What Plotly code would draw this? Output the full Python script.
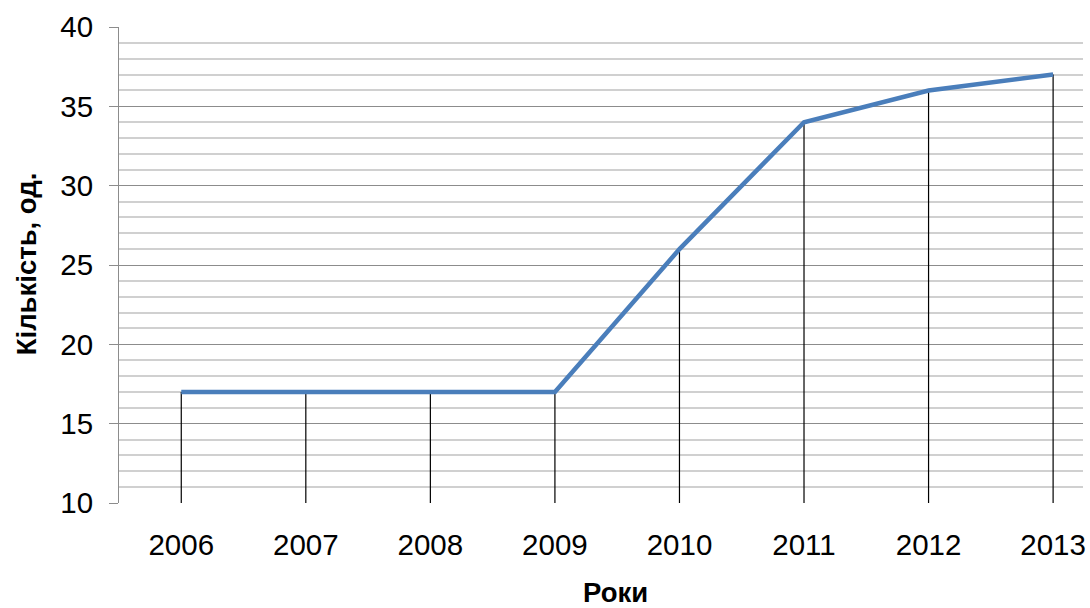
import plotly.graph_objects as go

# Кількість по роках
years = [2006, 2007, 2008, 2009, 2010, 2011, 2012, 2013]
counts = [17, 17, 17, 17, 26, 34, 36, 37]
y_min, y_max = 10, 40

FONT = "Liberation Sans, Arial, sans-serif"

fig = go.Figure()

# Вертикальні лінії від точок до осі X
drop_x, drop_y = [], []
for yr, v in zip(years, counts):
    drop_x += [yr, yr, None]
    drop_y += [y_min, v, None]
fig.add_trace(go.Scatter(
    x=drop_x, y=drop_y, mode="lines",
    line=dict(color="black", width=1.2),
    hoverinfo="skip", showlegend=False,
))

# Основна лінія
fig.add_trace(go.Scatter(
    x=years, y=counts, mode="lines",
    line=dict(color="#4a7ebb", width=4.5),
    showlegend=False,
))

fig.update_layout(
    width=1090, height=608,
    margin=dict(l=119, r=4, t=27, b=105),
    paper_bgcolor="white", plot_bgcolor="white",
    font=dict(family=FONT, color="black"),
    xaxis=dict(
        range=[years[0] - 0.5, years[0] - 0.5 + 967.5 / 125],
        tickmode="array", tickvals=years, ticktext=[str(y) for y in years],
        showgrid=False, zeroline=False, showline=False,
        ticks="", tickfont=dict(size=29.5, family=FONT),
        ticklabelstandoff=21,
    ),
    yaxis=dict(
        range=[y_min, y_max], dtick=5, tick0=0,
        showgrid=True, gridcolor="#8c8c8c", gridwidth=1,
        minor=dict(dtick=1, showgrid=True, gridcolor="#d0d0d0", gridwidth=1.5),
        zeroline=False,
        showline=True, linecolor="#8c8c8c", linewidth=1,
        ticks="outside", ticklen=9, tickcolor="#8c8c8c", tickwidth=1,
        tickfont=dict(size=29.5, family=FONT),
        ticklabelstandoff=10,
    ),
    annotations=[
        dict(text="<b>Кількість, од.</b>", x=26, y=264,
             showarrow=False, textangle=-90, font=dict(size=27.5, family=FONT)),
        dict(text="<b>Роки</b>", x=617, y=592, showarrow=False,
             font=dict(size=27.5, family=FONT)),
    ],
)

# annotations positioned in pixels: convert to paper coordinates
pw = 1090 - 119 - 4
ph = 608 - 27 - 105
for ann in fig.layout.annotations:
    px, py = ann.x, ann.y
    ann.x = (px - 119) / pw
    ann.y = (608 - 105 - py) / ph
    ann.xref = "paper"
    ann.yref = "paper"
    ann.xanchor = "center"
    ann.yanchor = "middle"

fig.write_html("out.html")
